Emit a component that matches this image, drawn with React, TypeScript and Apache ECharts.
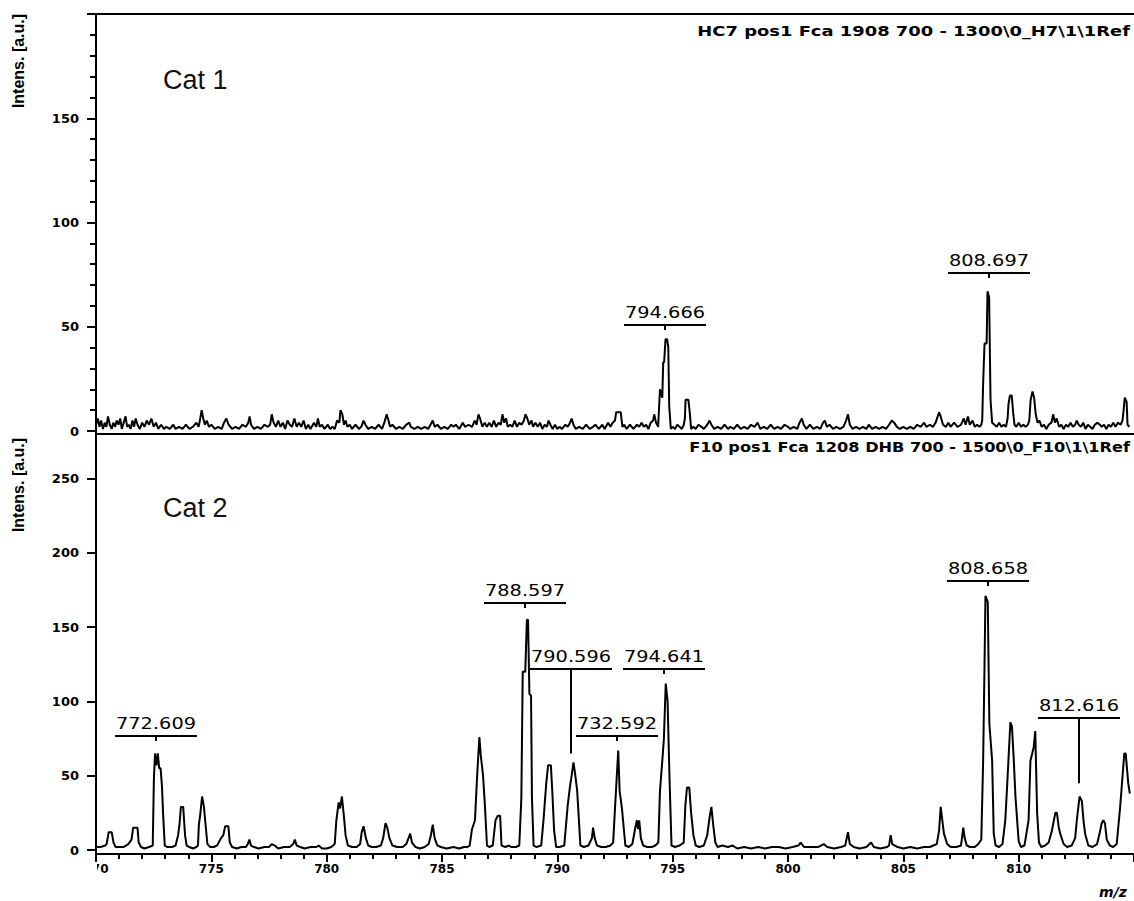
import React, { useEffect, useRef } from "react";
import * as echarts from "echarts";

// ---------- data ----------
const mzMin = 770;
const mzMax = 815;
const mzTickStep = 5;
const cat1Max = 200;
const cat2Max = 280;
const intensityTickStep = 50;

const cat1Name = "Cat 1";
const cat2Name = "Cat 2";
const cat1Header = "HC7 pos1 Fca 1908 700 - 1300\\0_H7\\1\\1Ref";
const cat2Header = "F10 pos1 Fca 1208 DHB 700 - 1500\\0_F10\\1\\1Ref";
const yAxisTitle = "Intens. [a.u.]";
const xAxisTitle = "m/z";

const cat1Spectrum: [number, number][] = [
  [770.0,3],[770.08,6],[770.15,2],[770.22,5],[770.3,1],[770.38,4],[770.45,2],[770.52,7],[770.6,3],[770.68,1],[770.75,4],[770.83,2],[770.9,5],[770.98,3],[771.05,6],[771.12,1],[771.2,4],[771.28,7],[771.35,2],[771.42,3],[771.5,1],[771.58,5],[771.65,2],[771.72,6],[771.8,3],[771.9,1],[772.0,4],[772.1,2],[772.2,5],[772.3,3],[772.4,6],[772.5,2],[772.6,4],[772.7,1],[772.82,3],[772.95,1],[773.05,2],[773.2,1],[773.35,3],[773.45,1],[773.6,2],[773.75,1],[773.9,3],[774.05,1],[774.2,2],[774.35,4],[774.45,2],[774.52,6],[774.58,10],[774.65,6],[774.72,3],[774.8,5],[774.9,2],[775.0,3],[775.15,1],[775.3,2],[775.45,1],[775.55,4],[775.65,6],[775.75,3],[775.9,1],[776.05,2],[776.2,1],[776.35,3],[776.5,2],[776.6,4],[776.66,7],[776.72,3],[776.85,1],[777.0,2],[777.15,1],[777.3,3],[777.45,2],[777.55,3],[777.62,8],[777.7,4],[777.8,2],[777.9,5],[778.0,2],[778.1,4],[778.2,1],[778.3,5],[778.4,3],[778.5,2],[778.6,6],[778.7,2],[778.8,4],[778.9,2],[779.0,5],[779.1,1],[779.2,3],[779.3,1],[779.45,4],[779.55,2],[779.62,6],[779.7,2],[779.8,3],[779.9,1],[780.05,3],[780.15,1],[780.25,2],[780.35,1],[780.45,5],[780.55,4],[780.6,10],[780.68,8],[780.75,3],[780.82,5],[780.9,2],[781.0,3],[781.1,1],[781.25,3],[781.4,1],[781.5,2],[781.6,5],[781.68,3],[781.8,1],[781.95,2],[782.1,1],[782.25,3],[782.4,1],[782.5,4],[782.6,8],[782.68,5],[782.75,2],[782.85,3],[783.0,1],[783.15,2],[783.3,1],[783.45,3],[783.58,4],[783.65,2],[783.8,1],[783.95,2],[784.1,1],[784.25,2],[784.4,1],[784.5,3],[784.6,5],[784.68,2],[784.8,3],[784.95,1],[785.1,2],[785.25,1],[785.4,3],[785.5,2],[785.6,3],[785.75,1],[785.9,4],[786.0,2],[786.15,3],[786.3,2],[786.42,5],[786.5,3],[786.58,8],[786.65,6],[786.75,2],[786.85,4],[786.95,2],[787.05,4],[787.15,2],[787.25,5],[787.35,2],[787.45,4],[787.55,3],[787.62,8],[787.7,4],[787.78,6],[787.85,2],[787.95,3],[788.05,2],[788.15,5],[788.25,2],[788.35,4],[788.45,3],[788.55,5],[788.62,8],[788.7,6],[788.78,3],[788.88,5],[788.95,2],[789.05,4],[789.15,2],[789.25,4],[789.35,1],[789.45,3],[789.55,2],[789.62,5],[789.7,3],[789.8,1],[789.9,3],[790.0,1],[790.1,2],[790.2,1],[790.35,3],[790.45,2],[790.55,4],[790.62,6],[790.7,3],[790.8,1],[790.95,2],[791.1,1],[791.25,3],[791.4,1],[791.55,2],[791.65,3],[791.8,1],[791.95,3],[792.05,1],[792.2,4],[792.3,2],[792.4,4],[792.5,5],[792.55,9],[792.75,9],[792.82,2],[792.9,3],[793.0,1],[793.15,3],[793.3,1],[793.45,3],[793.55,2],[793.65,4],[793.75,2],[793.85,3],[793.95,1],[794.05,4],[794.15,5],[794.2,8],[794.28,4],[794.37,2],[794.45,20],[794.55,16],[794.59,33],[794.63,33],[794.69,44],[794.76,44],[794.81,40],[794.85,12],[794.92,1],[795.0,2],[795.1,1],[795.2,3],[795.3,2],[795.4,1],[795.48,3],[795.53,6],[795.56,15],[795.68,15],[795.74,9],[795.8,1],[795.9,2],[796.0,1],[796.12,3],[796.25,2],[796.35,1],[796.5,3],[796.6,5],[796.68,3],[796.8,1],[796.95,2],[797.1,1],[797.25,3],[797.4,1],[797.5,2],[797.65,1],[797.8,3],[797.95,1],[798.1,2],[798.25,1],[798.4,3],[798.55,2],[798.68,4],[798.8,1],[798.95,2],[799.1,1],[799.25,3],[799.4,1],[799.55,2],[799.7,1],[799.85,3],[800.0,2],[800.1,1],[800.25,2],[800.4,1],[800.5,4],[800.6,6],[800.68,3],[800.8,1],[800.95,3],[801.1,1],[801.25,2],[801.4,1],[801.52,4],[801.6,5],[801.68,2],[801.8,3],[801.95,1],[802.1,2],[802.25,1],[802.4,2],[802.52,5],[802.6,8],[802.68,3],[802.8,1],[802.95,2],[803.1,1],[803.25,2],[803.4,1],[803.5,3],[803.65,1],[803.8,2],[803.95,1],[804.1,2],[804.25,1],[804.38,3],[804.5,5],[804.6,4],[804.72,2],[804.85,1],[805.0,2],[805.15,1],[805.3,2],[805.45,1],[805.6,3],[805.75,2],[805.9,4],[806.0,2],[806.15,3],[806.28,2],[806.4,4],[806.55,9],[806.62,7],[806.72,3],[806.85,2],[806.95,4],[807.05,2],[807.2,4],[807.35,2],[807.5,3],[807.62,6],[807.7,3],[807.8,7],[807.88,3],[808.0,5],[808.1,2],[808.2,3],[808.3,2],[808.38,3],[808.42,5],[808.46,23],[808.52,42],[808.61,42],[808.65,67],[808.72,64],[808.78,15],[808.85,4],[808.95,3],[809.05,2],[809.15,4],[809.25,2],[809.35,3],[809.45,2],[809.52,6],[809.56,13],[809.62,17],[809.7,17],[809.76,9],[809.82,3],[809.9,2],[810.0,4],[810.1,2],[810.2,3],[810.3,2],[810.4,3],[810.46,5],[810.52,15],[810.6,19],[810.67,16],[810.74,8],[810.82,4],[810.9,5],[811.0,2],[811.1,3],[811.2,1],[811.3,3],[811.42,4],[811.5,8],[811.57,4],[811.65,6],[811.75,2],[811.85,3],[811.95,1],[812.05,3],[812.15,2],[812.25,4],[812.35,2],[812.45,3],[812.52,5],[812.6,3],[812.7,2],[812.8,4],[812.9,1],[813.0,3],[813.1,2],[813.2,1],[813.3,3],[813.42,4],[813.52,3],[813.6,2],[813.7,3],[813.8,1],[813.9,3],[814.0,2],[814.1,4],[814.2,2],[814.3,4],[814.42,3],[814.5,5],[814.55,10],[814.6,16],[814.68,14],[814.72,3],[814.8,2]
];

const cat2Spectrum: [number, number][] = [
  [770.0,2],[770.2,2],[770.4,3],[770.46,4],[770.55,12],[770.68,12],[770.76,5],[770.85,2],[771.0,2],[771.2,2],[771.4,4],[771.54,7],[771.61,15],[771.8,15],[771.85,5],[771.95,2],[772.1,1],[772.3,2],[772.46,3],[772.51,48],[772.56,65],[772.62,57],[772.68,65],[772.74,55],[772.8,55],[772.86,43],[772.91,24],[772.98,3],[773.1,2],[773.3,2],[773.45,3],[773.56,10],[773.62,17],[773.68,29],[773.78,29],[773.86,10],[773.93,3],[774.05,2],[774.2,1],[774.35,2],[774.42,3],[774.46,17],[774.52,24],[774.6,36],[774.68,29],[774.75,17],[774.83,4],[774.95,2],[775.1,2],[775.25,3],[775.42,8],[775.52,10],[775.6,16],[775.74,16],[775.8,5],[775.9,2],[776.1,1],[776.3,2],[776.5,2],[776.58,4],[776.65,7],[776.72,3],[776.85,2],[777.05,1],[777.3,2],[777.5,2],[777.62,4],[777.75,3],[777.9,1],[778.15,2],[778.4,2],[778.55,4],[778.62,7],[778.7,3],[778.85,2],[779.05,1],[779.3,2],[779.55,2],[779.65,3],[779.8,1],[780.0,1],[780.2,2],[780.35,4],[780.42,20],[780.52,32],[780.58,28],[780.66,36],[780.74,24],[780.82,10],[780.92,3],[781.1,2],[781.3,2],[781.45,4],[781.52,12],[781.6,16],[781.7,8],[781.8,3],[781.95,2],[782.15,2],[782.35,3],[782.45,8],[782.55,18],[782.63,15],[782.72,8],[782.85,3],[783.05,2],[783.3,2],[783.45,4],[783.55,8],[783.62,11],[783.7,5],[783.85,2],[784.05,1],[784.25,2],[784.42,4],[784.52,10],[784.6,17],[784.68,8],[784.8,3],[784.95,2],[785.2,1],[785.5,2],[785.75,1],[785.95,2],[786.1,2],[786.2,3],[786.3,14],[786.43,20],[786.52,49],[786.62,76],[786.68,64],[786.78,50],[786.86,30],[786.95,3],[787.05,2],[787.2,3],[787.32,20],[787.42,23],[787.52,23],[787.58,3],[787.75,2],[787.9,3],[788.0,2],[788.2,2],[788.35,3],[788.44,35],[788.5,120],[788.61,120],[788.68,155],[788.73,155],[788.79,105],[788.86,104],[788.9,35],[788.97,3],[789.1,2],[789.3,3],[789.4,20],[789.52,45],[789.6,57],[789.72,57],[789.78,40],[789.86,13],[789.95,2],[790.1,2],[790.3,3],[790.45,30],[790.55,43],[790.62,50],[790.7,59],[790.78,50],[790.86,40],[791.0,3],[791.15,2],[791.35,3],[791.5,8],[791.55,15],[791.62,8],[791.72,3],[791.9,2],[792.1,2],[792.3,3],[792.42,5],[792.5,28],[792.64,67],[792.7,40],[792.8,28],[792.95,3],[793.1,2],[793.25,4],[793.38,15],[793.45,20],[793.5,14],[793.55,20],[793.62,8],[793.72,3],[793.9,2],[794.1,2],[794.25,3],[794.38,5],[794.45,40],[794.55,60],[794.62,75],[794.7,112],[794.78,100],[794.86,50],[794.95,3],[795.1,2],[795.3,3],[795.48,5],[795.55,30],[795.62,42],[795.72,42],[795.8,25],[795.9,10],[796.0,3],[796.15,2],[796.35,3],[796.5,10],[796.6,22],[796.68,29],[796.75,18],[796.85,5],[796.95,2],[797.15,3],[797.4,2],[797.6,3],[797.8,1],[798.1,2],[798.4,1],[798.7,2],[799.0,1],[799.3,2],[799.6,2],[799.9,1],[800.2,2],[800.45,3],[800.55,5],[800.7,2],[801.0,2],[801.3,2],[801.55,4],[801.7,2],[802.0,1],[802.3,2],[802.48,3],[802.6,12],[802.68,4],[802.85,2],[803.1,1],[803.4,2],[803.6,5],[803.72,2],[804.0,1],[804.3,2],[804.38,3],[804.45,10],[804.52,4],[804.75,2],[805.0,1],[805.3,2],[805.6,1],[805.9,2],[806.15,2],[806.3,3],[806.45,4],[806.55,13],[806.62,29],[806.69,20],[806.76,11],[806.9,4],[807.05,2],[807.3,2],[807.5,3],[807.6,15],[807.66,8],[807.75,3],[807.9,2],[808.1,2],[808.25,4],[808.38,7],[808.46,60],[808.52,125],[808.56,171],[808.66,167],[808.73,85],[808.85,60],[808.92,11],[809.0,3],[809.15,2],[809.3,4],[809.42,20],[809.5,43],[809.64,86],[809.71,83],[809.79,60],[809.86,36],[810.0,6],[810.1,2],[810.25,3],[810.43,20],[810.51,60],[810.65,69],[810.72,80],[810.8,25],[810.88,5],[810.98,2],[811.15,3],[811.3,5],[811.44,13],[811.59,25],[811.66,25],[811.73,16],[811.8,11],[811.95,4],[812.1,2],[812.3,3],[812.45,8],[812.52,20],[812.64,36],[812.74,33],[812.81,20],[812.88,11],[813.02,3],[813.2,2],[813.4,4],[813.52,12],[813.6,18],[813.67,20],[813.74,18],[813.82,7],[813.95,3],[814.1,2],[814.25,4],[814.4,29],[814.47,43],[814.58,65],[814.64,65],[814.75,45],[814.82,38]
];

// peak annotations: label text, m/z, intensity level of the bar, optional level where the drop line ends
type Peak = { label: string; mz: number; level: number; drop?: number };
const cat1Peaks: Peak[] = [
  { label: "794.666", mz: 794.666, level: 51 },
  { label: "808.697", mz: 808.697, level: 76 },
];
const cat2Peaks: Peak[] = [
  { label: "772.609", mz: 772.609, level: 77 },
  { label: "788.597", mz: 788.597, level: 166 },
  { label: "790.596", mz: 790.596, level: 122, drop: 65 },
  { label: "732.592", mz: 792.592, level: 77 },
  { label: "794.641", mz: 794.641, level: 122 },
  { label: "808.658", mz: 808.658, level: 181 },
  { label: "812.616", mz: 812.616, level: 89, drop: 45 },
];

// ---------- helpers ----------
const measureCtx: CanvasRenderingContext2D | null =
  typeof document !== "undefined" ? document.createElement("canvas").getContext("2d") : null;
function textWidth(text: string, font: string): number {
  if (!measureCtx) return text.length * 8;
  measureCtx.font = font;
  return measureCtx.measureText(text).width;
}

const BLACK = "#000";
const peakFont = "16px 'DejaVu Sans'";
const headerFont = "bold 14px 'DejaVu Sans'";

function annotationSeries(peaks: Peak[], xAxisIndex: number, yAxisIndex: number) {
  return {
    type: "custom",
    xAxisIndex,
    yAxisIndex,
    silent: true,
    clip: false,
    z: 5,
    data: peaks.map((p) => [p.mz, p.level]),
    renderItem: (params: any, api: any) => {
      const p = peaks[params.dataIndex];
      const pt = api.coord([api.value(0), api.value(1)]);
      const cx = Math.round(pt[0]);
      const cy = Math.round(pt[1]);
      const half = 41;
      const endY = p.drop != null ? api.coord([p.mz, p.drop])[1] : cy + 5;
      const sx = 80 / textWidth(p.label, peakFont);
      return {
        type: "group",
        children: [
          { type: "line", shape: { x1: cx - half, y1: cy, x2: cx + half, y2: cy }, style: { stroke: BLACK, lineWidth: 2 } },
          { type: "line", shape: { x1: cx, y1: cy, x2: cx, y2: endY }, style: { stroke: BLACK, lineWidth: 2 } },
          {
            type: "text",
            x: cx,
            y: cy - 4,
            scaleX: sx,
            style: { text: p.label, font: peakFont, fill: BLACK, align: "center", verticalAlign: "bottom", textAlign: "center", textVerticalAlign: "bottom" },
          },
        ],
      };
    },
  };
}

const lineStyleBlack = { color: BLACK, width: 2 };

export default function App() {
  const ref = useRef<HTMLDivElement | null>(null);

  useEffect(() => {
    if (!ref.current) return;
    const chart = echarts.init(ref.current, undefined, { renderer: "svg" });

    const xBase = {
      type: "value",
      min: mzMin,
      max: mzMax,
      interval: mzTickStep,
      splitLine: { show: false },
      minorSplitLine: { show: false },
    };

    const h1 = textWidth(cat1Header, headerFont);
    const h2 = textWidth(cat2Header, headerFont);

    const option: any = {
      animation: false,
      backgroundColor: "#fff",
      grid: [
        { left: 96, right: -3, top: 14, height: 417 },
        { left: 96, right: -3, top: 434, height: 416 },
      ],
      xAxis: [
        {
          ...xBase,
          gridIndex: 0,
          position: "bottom",
          offset: 3,
          axisLine: { show: true, onZero: false, lineStyle: lineStyleBlack },
          axisTick: { show: false },
          axisLabel: { show: false },
        },
        {
          ...xBase,
          gridIndex: 0,
          position: "top",
          axisLine: { show: true, onZero: false, lineStyle: lineStyleBlack },
          axisTick: { show: false },
          axisLabel: { show: false },
        },
        {
          ...xBase,
          gridIndex: 1,
          position: "bottom",
          offset: 4,
          axisLine: { show: true, onZero: false, lineStyle: lineStyleBlack },
          axisTick: { show: true, length: 8, lineStyle: lineStyleBlack },
          minorTick: { show: true, splitNumber: 5, length: 5, lineStyle: lineStyleBlack },
          axisLabel: {
            show: true,
            color: BLACK,
            fontFamily: "DejaVu Sans",
            fontWeight: "bold",
            fontSize: 12,
            margin: 9,
            showMinLabel: true,
            showMaxLabel: false,
          },
        },
      ],
      yAxis: [
        {
          gridIndex: 0,
          type: "value",
          min: 0,
          max: cat1Max,
          interval: intensityTickStep,
          axisLine: { show: true, onZero: false, lineStyle: lineStyleBlack },
          axisTick: { show: true, length: 9, lineStyle: lineStyleBlack },
          minorTick: { show: true, splitNumber: 5, length: 6, lineStyle: lineStyleBlack },
          axisLabel: { color: BLACK, fontFamily: "DejaVu Sans", fontWeight: "bold", fontSize: 13, margin: 17, showMaxLabel: false },
          splitLine: { show: false },
          minorSplitLine: { show: false },
        },
        {
          gridIndex: 1,
          type: "value",
          min: 0,
          max: cat2Max,
          interval: intensityTickStep,
          axisLine: { show: true, onZero: false, lineStyle: lineStyleBlack },
          axisTick: { show: true, length: 9, lineStyle: lineStyleBlack },
          axisLabel: { color: BLACK, fontFamily: "DejaVu Sans", fontWeight: "bold", fontSize: 13, margin: 17, showMaxLabel: false },
          splitLine: { show: false },
        },
        {
          gridIndex: 1,
          type: "value",
          min: 0,
          max: cat2Max,
          interval: 10,
          axisLine: { show: false },
          axisTick: { show: true, length: 6, lineStyle: lineStyleBlack },
          axisLabel: { show: false },
          splitLine: { show: false },
        },
      ],
      series: [
        {
          type: "line",
          xAxisIndex: 0,
          yAxisIndex: 0,
          data: cat1Spectrum,
          showSymbol: false,
          symbol: "none",
          lineStyle: { color: BLACK, width: 2 },
          silent: true,
        },
        {
          type: "line",
          xAxisIndex: 2,
          yAxisIndex: 1,
          data: cat2Spectrum,
          showSymbol: false,
          symbol: "none",
          lineStyle: { color: BLACK, width: 2 },
          silent: true,
        },
        annotationSeries(cat1Peaks, 0, 0),
        annotationSeries(cat2Peaks, 2, 1),
      ],
      graphic: [
        // left axis line continuous through both panels
        { type: "line", z: 50, shape: { x1: 96, y1: 14, x2: 96, y2: 855 }, style: { stroke: BLACK, lineWidth: 2 } },
        // clip of the first m/z label at the plot's left edge
        { type: "rect", z: 60, shape: { x: 0, y: 863, width: 97, height: 20 }, style: { fill: "#fff" } },
        {
          type: "text", z: 70, x: 1130, y: 31, scaleX: 433 / h1,
          style: { text: cat1Header, font: headerFont, fill: BLACK, align: "right", verticalAlign: "middle", textAlign: "right", textVerticalAlign: "middle" },
        },
        {
          type: "text", z: 70, x: 1130, y: 447, scaleX: 441 / h2,
          style: { text: cat2Header, font: headerFont, fill: BLACK, align: "right", verticalAlign: "middle", textAlign: "right", textVerticalAlign: "middle" },
        },
        {
          type: "text", z: 70, x: 163, y: 80,
          style: { text: cat1Name, font: "27px 'Liberation Sans'", fill: "#111", align: "left", verticalAlign: "middle", textAlign: "left", textVerticalAlign: "middle" },
        },
        {
          type: "text", z: 70, x: 163, y: 508,
          style: { text: cat2Name, font: "27px 'Liberation Sans'", fill: "#111", align: "left", verticalAlign: "middle", textAlign: "left", textVerticalAlign: "middle" },
        },
        {
          type: "text", z: 70, x: 18, y: 61, rotation: Math.PI / 2,
          style: { text: yAxisTitle, font: "bold 16px 'Liberation Sans'", fill: BLACK, align: "center", verticalAlign: "middle", textAlign: "center", textVerticalAlign: "middle" },
        },
        {
          type: "text", z: 70, x: 18, y: 485, rotation: Math.PI / 2,
          style: { text: yAxisTitle, font: "bold 16px 'Liberation Sans'", fill: BLACK, align: "center", verticalAlign: "middle", textAlign: "center", textVerticalAlign: "middle" },
        },
        {
          type: "text", z: 70, x: 1113, y: 892,
          style: { text: xAxisTitle, font: "italic bold 14px 'DejaVu Sans'", fill: BLACK, align: "center", verticalAlign: "middle", textAlign: "center", textVerticalAlign: "middle" },
        },
      ],
    };

    chart.setOption(option);
    return () => chart.dispose();
  }, []);

  return (
    <div
      ref={ref}
      style={{ position: "fixed", left: 0, top: 0, width: 1134, height: 901, background: "#fff" }}
    />
  );
}
